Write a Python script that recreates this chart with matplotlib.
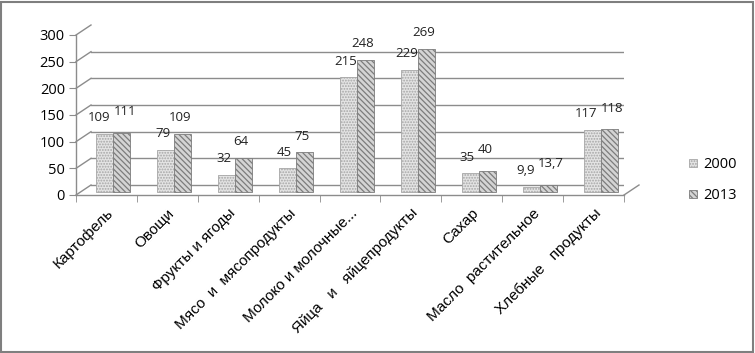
"""
plot.py — потребление продуктов питания, 2000 vs 2013 (Excel-style 3D bar look)
"""
import matplotlib
matplotlib.use("Agg")
import matplotlib.pyplot as plt
import matplotlib.transforms as mtransforms
from matplotlib.patches import Rectangle
import numpy as np

# ----------------------------- data ----------------------------------------
categories = ["Картофель", "Овощи", "Фрукты и ягоды", "Мясо  и  мясопродукты",
              "Молоко и молочные...", "Яйца   и   яйцепродукты", "Сахар",
              "Масло  растительное", "Хлебные   продукты"]
values_2000 = [109, 79, 32, 45, 215, 229, 35, 9.9, 117]
values_2013 = [111, 109, 64, 75, 248, 269, 40, 13.7, 118]
labels_2000 = ["109", "79", "32", "45", "215", "229", "35", "9,9", "117"]
labels_2013 = ["111", "109", "64", "75", "248", "269", "40", "13,7", "118"]
series_names = ["2000", "2013"]
y_ticks = [0, 50, 100, 150, 200, 250, 300]

# ----------------------------- style ---------------------------------------
W, H, DPI = 755, 353, 100
GRID = "#8c8c8c"
NUM_FONT = ["Open Sans", "DejaVu Sans"]
CAT_FONT = ["Liberation Sans", "DejaVu Sans"]
plt.rcParams["hatch.linewidth"] = 0.9

fig = plt.figure(figsize=(W / DPI, H / DPI), dpi=DPI)
# axes box in pixels: x 76..624, y(0)=195, y(300)=35
ax = fig.add_axes([76 / W, 1 - 195 / H, 548 / W, 160 / H])
ax.set_xlim(-0.5, len(categories) - 0.5)
ax.set_ylim(0, 300)
for s in ax.spines.values():
    s.set_visible(False)
ax.patch.set_visible(False)

# depth offsets in pixels (back wall, bars at mid depth)
def offset(dx_px, dy_px):
    return ax.transData + mtransforms.ScaledTranslation(dx_px / DPI, dy_px / DPI,
                                                        fig.dpi_scale_trans)

back = offset(15, 10)
px_x = len(categories) / 548.0   # data units per pixel
px_y = 300 / 160.0
x0, x1 = ax.get_xlim()

# back-wall grid lines + left-wall diagonals
for v in y_ticks:
    ax.plot([x0, x1], [v, v], color=GRID, lw=1.0, transform=back, zorder=1)
    ax.plot([x0, x0 + 15 * px_x], [v, v + 10 * px_y], color=GRID, lw=1.0,
            zorder=1, clip_on=False)
# floor: front edge + right diagonal
ax.plot([x0, x1], [0, 0], color=GRID, lw=1.0, zorder=1, clip_on=False)
ax.plot([x1, x1 + 15 * px_x], [0, 10 * px_y], color=GRID, lw=1.0,
        zorder=1, clip_on=False)
# front vertical axis
ax.plot([x0, x0], [0, 300], color=GRID, lw=1.0, zorder=1, clip_on=False)

# bars
x = np.arange(len(categories))
bw = 0.28
mid = offset(7, 3)
b1 = ax.bar(x - bw / 2, values_2000, bw, facecolor="#e4e4e4", edgecolor="#a6a6a6",
            hatch="......", lw=0.6, transform=mid, zorder=3)
b2 = ax.bar(x + bw / 2, values_2013, bw, facecolor="#d4d4d4", edgecolor="#7c7c7c",
            hatch="\\\\\\\\\\\\", lw=0.6, transform=mid, zorder=3)

# value labels: above each bar, nudged apart when a pair collides (like Excel)
LDX, LDY = 4, 19
ann1, ann2 = [], []
for xi, v, t in zip(x - bw / 2, values_2000, labels_2000):
    ann1.append(ax.annotate(t, (xi, v), xytext=(LDX, LDY), textcoords="offset pixels",
                            ha="center", va="center", fontsize=9.5,
                            family=NUM_FONT, color="#222222", zorder=5))
for xi, v, t in zip(x + bw / 2, values_2013, labels_2013):
    ann2.append(ax.annotate(t, (xi, v), xytext=(LDX, LDY), textcoords="offset pixels",
                            ha="center", va="center", fontsize=9.5,
                            family=NUM_FONT, color="#222222", zorder=5))

# y ticks
ax.set_yticks(y_ticks)
ax.set_yticklabels([str(t) for t in y_ticks], family=NUM_FONT, fontsize=10.5)
ax.tick_params(axis="y", length=5, color=GRID, pad=3)

# x ticks: marks at category boundaries, labels at centres
ax.set_xticks(np.arange(len(categories) + 1) - 0.5, minor=True)
ax.set_xticks(x)
ax.set_xticklabels(categories, rotation=45, ha="right", va="top",
                   rotation_mode="anchor", family=CAT_FONT, fontsize=11)
ax.tick_params(axis="x", which="major", length=0, pad=8)
ax.tick_params(axis="x", which="minor", length=5, color=GRID)

fig.canvas.draw()
r = fig.canvas.get_renderer()
for a1, a2 in zip(ann1, ann2):
    e1, e2 = a1.get_window_extent(r), a2.get_window_extent(r)
    ov = e1.x1 - e2.x0
    vgap = abs((e1.y0 + e1.y1) / 2 - (e2.y0 + e2.y1) / 2)
    if ov > -2 and vgap < e1.height:
        a1.xyann = (LDX - 0.3 * ov - 1, LDY)
        a2.xyann = (LDX + 0.7 * ov + 2, LDY + 5)

# legend
fig.legend([b1, b2], series_names, loc="upper left",
           bbox_to_anchor=(676 / W, 1 - 144 / H), frameon=False,
           prop={"family": NUM_FONT, "size": 10.5}, handlelength=0.55,
           handleheight=0.55, handletextpad=0.4, labelspacing=1.1)

# outer frame
fig.patches.append(Rectangle((1 / W, 1 / H), 1 - 3 / W, 1 - 3 / H,
                             transform=fig.transFigure, fill=False,
                             edgecolor="#7f7f7f", lw=1.5))

fig.savefig("out.png", dpi=DPI)
